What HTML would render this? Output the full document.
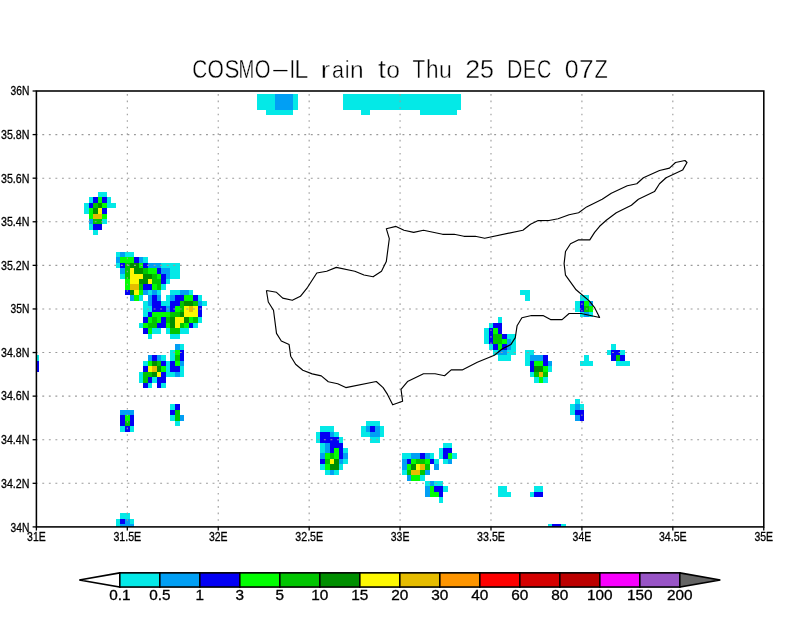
<!DOCTYPE html>
<html lang="en"><head><meta charset="utf-8"><title>COSMO-IL rain to Thu 25 DEC 07Z</title>
<style>html,body{margin:0;padding:0;background:#fff}body{width:800px;height:618px;overflow:hidden}svg{display:block}text{font-family:"Liberation Sans",Arial,Helvetica,sans-serif;fill:#000}.ax{font-size:12.8px;stroke:#000;stroke-width:.3px}.cb{font-size:14.2px;stroke:#000;stroke-width:.3px}.tt{font-size:26.6px;stroke:#fff;stroke-width:.4px}</style></head><body>
<svg width="800" height="618" viewBox="0 0 800 618">
<rect width="800" height="618" fill="#fff"/>
<g shape-rendering="crispEdges">
<rect x="98" y="192" width="9" height="5" fill="#04e9e7"/>
<rect x="89" y="197" width="4" height="6" fill="#04e9e7"/>
<rect x="93" y="197" width="5" height="6" fill="#0300f4"/>
<rect x="98" y="197" width="4" height="6" fill="#02fd02"/>
<rect x="102" y="197" width="5" height="6" fill="#0300f4"/>
<rect x="107" y="197" width="4" height="6" fill="#04e9e7"/>
<rect x="84" y="203" width="5" height="5" fill="#04e9e7"/>
<rect x="89" y="203" width="4" height="5" fill="#0300f4"/>
<rect x="93" y="203" width="5" height="5" fill="#01c501"/>
<rect x="98" y="203" width="4" height="5" fill="#008e00"/>
<rect x="102" y="203" width="5" height="5" fill="#02fd02"/>
<rect x="107" y="203" width="9" height="5" fill="#04e9e7"/>
<rect x="84" y="208" width="5" height="6" fill="#04e9e7"/>
<rect x="89" y="208" width="4" height="6" fill="#02fd02"/>
<rect x="93" y="208" width="5" height="6" fill="#008e00"/>
<rect x="98" y="208" width="4" height="6" fill="#fdf802"/>
<rect x="102" y="208" width="5" height="6" fill="#0300f4"/>
<rect x="89" y="214" width="4" height="5" fill="#02fd02"/>
<rect x="93" y="214" width="9" height="5" fill="#e5bc00"/>
<rect x="102" y="214" width="5" height="5" fill="#02fd02"/>
<rect x="89" y="219" width="4" height="5" fill="#019ff4"/>
<rect x="93" y="219" width="9" height="5" fill="#01c501"/>
<rect x="102" y="219" width="5" height="5" fill="#04e9e7"/>
<rect x="89" y="224" width="4" height="6" fill="#04e9e7"/>
<rect x="93" y="224" width="9" height="6" fill="#0300f4"/>
<rect x="93" y="230" width="5" height="5" fill="#04e9e7"/>
<rect x="116" y="252" width="4" height="5" fill="#04e9e7"/>
<rect x="120" y="252" width="5" height="5" fill="#019ff4"/>
<rect x="125" y="252" width="9" height="5" fill="#04e9e7"/>
<rect x="116" y="257" width="4" height="6" fill="#019ff4"/>
<rect x="120" y="257" width="14" height="6" fill="#02fd02"/>
<rect x="134" y="257" width="5" height="6" fill="#0300f4"/>
<rect x="139" y="257" width="4" height="6" fill="#019ff4"/>
<rect x="143" y="257" width="5" height="6" fill="#04e9e7"/>
<rect x="116" y="263" width="4" height="5" fill="#04e9e7"/>
<rect x="120" y="263" width="5" height="5" fill="#0300f4"/>
<rect x="125" y="263" width="5" height="5" fill="#01c501"/>
<rect x="130" y="263" width="9" height="5" fill="#008e00"/>
<rect x="139" y="263" width="4" height="5" fill="#02fd02"/>
<rect x="143" y="263" width="5" height="5" fill="#0300f4"/>
<rect x="148" y="263" width="13" height="5" fill="#019ff4"/>
<rect x="161" y="263" width="19" height="5" fill="#04e9e7"/>
<rect x="120" y="268" width="5" height="6" fill="#019ff4"/>
<rect x="125" y="268" width="5" height="6" fill="#01c501"/>
<rect x="130" y="268" width="4" height="6" fill="#fdf802"/>
<rect x="134" y="268" width="9" height="6" fill="#008e00"/>
<rect x="143" y="268" width="5" height="6" fill="#01c501"/>
<rect x="148" y="268" width="9" height="6" fill="#02fd02"/>
<rect x="157" y="268" width="4" height="6" fill="#0300f4"/>
<rect x="161" y="268" width="9" height="6" fill="#019ff4"/>
<rect x="170" y="268" width="10" height="6" fill="#04e9e7"/>
<rect x="120" y="274" width="5" height="5" fill="#04e9e7"/>
<rect x="125" y="274" width="5" height="5" fill="#01c501"/>
<rect x="130" y="274" width="13" height="5" fill="#fdf802"/>
<rect x="143" y="274" width="9" height="5" fill="#008e00"/>
<rect x="152" y="274" width="5" height="5" fill="#01c501"/>
<rect x="157" y="274" width="4" height="5" fill="#02fd02"/>
<rect x="161" y="274" width="5" height="5" fill="#0300f4"/>
<rect x="166" y="274" width="4" height="5" fill="#019ff4"/>
<rect x="170" y="274" width="10" height="5" fill="#04e9e7"/>
<rect x="125" y="279" width="5" height="5" fill="#02fd02"/>
<rect x="130" y="279" width="9" height="5" fill="#fdf802"/>
<rect x="139" y="279" width="9" height="5" fill="#008e00"/>
<rect x="148" y="279" width="4" height="5" fill="#fdf802"/>
<rect x="152" y="279" width="9" height="5" fill="#01c501"/>
<rect x="161" y="279" width="5" height="5" fill="#0300f4"/>
<rect x="166" y="279" width="4" height="5" fill="#04e9e7"/>
<rect x="125" y="284" width="5" height="6" fill="#02fd02"/>
<rect x="130" y="284" width="9" height="6" fill="#e5bc00"/>
<rect x="139" y="284" width="4" height="6" fill="#01c501"/>
<rect x="143" y="284" width="9" height="6" fill="#0300f4"/>
<rect x="152" y="284" width="5" height="6" fill="#02fd02"/>
<rect x="157" y="284" width="4" height="6" fill="#01c501"/>
<rect x="161" y="284" width="5" height="6" fill="#04e9e7"/>
<rect x="125" y="290" width="5" height="5" fill="#0300f4"/>
<rect x="130" y="290" width="4" height="5" fill="#008e00"/>
<rect x="134" y="290" width="5" height="5" fill="#fdf802"/>
<rect x="139" y="290" width="4" height="5" fill="#02fd02"/>
<rect x="143" y="290" width="5" height="5" fill="#019ff4"/>
<rect x="148" y="290" width="4" height="5" fill="#04e9e7"/>
<rect x="152" y="290" width="5" height="5" fill="#019ff4"/>
<rect x="157" y="290" width="4" height="5" fill="#04e9e7"/>
<rect x="170" y="290" width="10" height="5" fill="#04e9e7"/>
<rect x="180" y="290" width="9" height="5" fill="#019ff4"/>
<rect x="189" y="290" width="4" height="5" fill="#04e9e7"/>
<rect x="130" y="295" width="4" height="6" fill="#019ff4"/>
<rect x="134" y="295" width="5" height="6" fill="#02fd02"/>
<rect x="139" y="295" width="4" height="6" fill="#04e9e7"/>
<rect x="148" y="295" width="4" height="6" fill="#019ff4"/>
<rect x="152" y="295" width="5" height="6" fill="#0300f4"/>
<rect x="157" y="295" width="4" height="6" fill="#019ff4"/>
<rect x="166" y="295" width="4" height="6" fill="#04e9e7"/>
<rect x="170" y="295" width="5" height="6" fill="#019ff4"/>
<rect x="175" y="295" width="9" height="6" fill="#0300f4"/>
<rect x="184" y="295" width="9" height="6" fill="#02fd02"/>
<rect x="193" y="295" width="5" height="6" fill="#0300f4"/>
<rect x="198" y="295" width="4" height="6" fill="#04e9e7"/>
<rect x="143" y="301" width="5" height="5" fill="#04e9e7"/>
<rect x="148" y="301" width="4" height="5" fill="#019ff4"/>
<rect x="152" y="301" width="9" height="5" fill="#0300f4"/>
<rect x="161" y="301" width="9" height="5" fill="#04e9e7"/>
<rect x="170" y="301" width="10" height="5" fill="#0300f4"/>
<rect x="180" y="301" width="4" height="5" fill="#01c501"/>
<rect x="184" y="301" width="9" height="5" fill="#008e00"/>
<rect x="193" y="301" width="5" height="5" fill="#01c501"/>
<rect x="198" y="301" width="4" height="5" fill="#019ff4"/>
<rect x="202" y="301" width="5" height="5" fill="#04e9e7"/>
<rect x="143" y="306" width="9" height="6" fill="#04e9e7"/>
<rect x="152" y="306" width="14" height="6" fill="#0300f4"/>
<rect x="166" y="306" width="4" height="6" fill="#019ff4"/>
<rect x="170" y="306" width="5" height="6" fill="#0300f4"/>
<rect x="175" y="306" width="5" height="6" fill="#02fd02"/>
<rect x="180" y="306" width="4" height="6" fill="#01c501"/>
<rect x="184" y="306" width="5" height="6" fill="#fdf802"/>
<rect x="189" y="306" width="4" height="6" fill="#e5bc00"/>
<rect x="193" y="306" width="5" height="6" fill="#fdf802"/>
<rect x="198" y="306" width="4" height="6" fill="#0300f4"/>
<rect x="143" y="312" width="5" height="5" fill="#04e9e7"/>
<rect x="148" y="312" width="4" height="5" fill="#0300f4"/>
<rect x="152" y="312" width="18" height="5" fill="#02fd02"/>
<rect x="170" y="312" width="10" height="5" fill="#01c501"/>
<rect x="180" y="312" width="4" height="5" fill="#008e00"/>
<rect x="184" y="312" width="14" height="5" fill="#fdf802"/>
<rect x="198" y="312" width="4" height="5" fill="#0300f4"/>
<rect x="143" y="317" width="5" height="6" fill="#0300f4"/>
<rect x="148" y="317" width="4" height="6" fill="#02fd02"/>
<rect x="152" y="317" width="5" height="6" fill="#01c501"/>
<rect x="157" y="317" width="4" height="6" fill="#02fd02"/>
<rect x="161" y="317" width="5" height="6" fill="#0300f4"/>
<rect x="166" y="317" width="4" height="6" fill="#01c501"/>
<rect x="170" y="317" width="5" height="6" fill="#008e00"/>
<rect x="175" y="317" width="9" height="6" fill="#fdf802"/>
<rect x="184" y="317" width="5" height="6" fill="#008e00"/>
<rect x="189" y="317" width="4" height="6" fill="#02fd02"/>
<rect x="193" y="317" width="5" height="6" fill="#01c501"/>
<rect x="198" y="317" width="4" height="6" fill="#04e9e7"/>
<rect x="139" y="323" width="4" height="5" fill="#04e9e7"/>
<rect x="143" y="323" width="5" height="5" fill="#02fd02"/>
<rect x="148" y="323" width="9" height="5" fill="#01c501"/>
<rect x="157" y="323" width="9" height="5" fill="#0300f4"/>
<rect x="166" y="323" width="4" height="5" fill="#02fd02"/>
<rect x="170" y="323" width="5" height="5" fill="#008e00"/>
<rect x="175" y="323" width="5" height="5" fill="#fdf802"/>
<rect x="180" y="323" width="4" height="5" fill="#01c501"/>
<rect x="184" y="323" width="5" height="5" fill="#02fd02"/>
<rect x="189" y="323" width="4" height="5" fill="#0300f4"/>
<rect x="193" y="323" width="5" height="5" fill="#04e9e7"/>
<rect x="143" y="328" width="5" height="6" fill="#0300f4"/>
<rect x="148" y="328" width="4" height="6" fill="#02fd02"/>
<rect x="152" y="328" width="9" height="6" fill="#04e9e7"/>
<rect x="166" y="328" width="4" height="6" fill="#04e9e7"/>
<rect x="170" y="328" width="10" height="6" fill="#01c501"/>
<rect x="180" y="328" width="9" height="6" fill="#04e9e7"/>
<rect x="148" y="334" width="4" height="5" fill="#04e9e7"/>
<rect x="170" y="334" width="10" height="5" fill="#04e9e7"/>
<rect x="175" y="344" width="5" height="6" fill="#019ff4"/>
<rect x="180" y="344" width="4" height="6" fill="#04e9e7"/>
<rect x="170" y="350" width="5" height="5" fill="#04e9e7"/>
<rect x="175" y="350" width="5" height="5" fill="#02fd02"/>
<rect x="180" y="350" width="4" height="5" fill="#0300f4"/>
<rect x="148" y="355" width="4" height="6" fill="#019ff4"/>
<rect x="152" y="355" width="5" height="6" fill="#0300f4"/>
<rect x="157" y="355" width="4" height="6" fill="#019ff4"/>
<rect x="161" y="355" width="5" height="6" fill="#04e9e7"/>
<rect x="170" y="355" width="5" height="6" fill="#04e9e7"/>
<rect x="175" y="355" width="5" height="6" fill="#01c501"/>
<rect x="180" y="355" width="4" height="6" fill="#0300f4"/>
<rect x="143" y="361" width="5" height="5" fill="#04e9e7"/>
<rect x="148" y="361" width="4" height="5" fill="#02fd02"/>
<rect x="152" y="361" width="5" height="5" fill="#008e00"/>
<rect x="157" y="361" width="4" height="5" fill="#01c501"/>
<rect x="161" y="361" width="5" height="5" fill="#0300f4"/>
<rect x="166" y="361" width="4" height="5" fill="#04e9e7"/>
<rect x="170" y="361" width="5" height="5" fill="#0300f4"/>
<rect x="175" y="361" width="5" height="5" fill="#02fd02"/>
<rect x="180" y="361" width="4" height="5" fill="#019ff4"/>
<rect x="143" y="366" width="5" height="6" fill="#0300f4"/>
<rect x="148" y="366" width="4" height="6" fill="#fdf802"/>
<rect x="152" y="366" width="5" height="6" fill="#e5bc00"/>
<rect x="157" y="366" width="4" height="6" fill="#008e00"/>
<rect x="161" y="366" width="5" height="6" fill="#02fd02"/>
<rect x="166" y="366" width="4" height="6" fill="#04e9e7"/>
<rect x="170" y="366" width="10" height="6" fill="#0300f4"/>
<rect x="180" y="366" width="4" height="6" fill="#04e9e7"/>
<rect x="139" y="372" width="4" height="5" fill="#04e9e7"/>
<rect x="143" y="372" width="9" height="5" fill="#01c501"/>
<rect x="152" y="372" width="5" height="5" fill="#008e00"/>
<rect x="157" y="372" width="4" height="5" fill="#fdf802"/>
<rect x="161" y="372" width="5" height="5" fill="#0300f4"/>
<rect x="166" y="372" width="9" height="5" fill="#04e9e7"/>
<rect x="175" y="372" width="5" height="5" fill="#019ff4"/>
<rect x="180" y="372" width="4" height="5" fill="#04e9e7"/>
<rect x="139" y="377" width="4" height="6" fill="#04e9e7"/>
<rect x="143" y="377" width="5" height="6" fill="#01c501"/>
<rect x="148" y="377" width="4" height="6" fill="#0300f4"/>
<rect x="152" y="377" width="5" height="6" fill="#04e9e7"/>
<rect x="157" y="377" width="9" height="6" fill="#0300f4"/>
<rect x="143" y="383" width="5" height="5" fill="#0300f4"/>
<rect x="148" y="383" width="4" height="5" fill="#04e9e7"/>
<rect x="157" y="383" width="4" height="5" fill="#0300f4"/>
<rect x="161" y="383" width="5" height="5" fill="#04e9e7"/>
<rect x="120" y="410" width="14" height="5" fill="#019ff4"/>
<rect x="120" y="415" width="5" height="6" fill="#0300f4"/>
<rect x="125" y="415" width="5" height="6" fill="#02fd02"/>
<rect x="130" y="415" width="4" height="6" fill="#0300f4"/>
<rect x="120" y="421" width="5" height="5" fill="#0300f4"/>
<rect x="125" y="421" width="5" height="5" fill="#01c501"/>
<rect x="130" y="421" width="4" height="5" fill="#0300f4"/>
<rect x="120" y="426" width="5" height="6" fill="#04e9e7"/>
<rect x="125" y="426" width="5" height="6" fill="#0300f4"/>
<rect x="130" y="426" width="4" height="6" fill="#04e9e7"/>
<rect x="170" y="404" width="5" height="6" fill="#04e9e7"/>
<rect x="175" y="404" width="5" height="6" fill="#0300f4"/>
<rect x="170" y="410" width="5" height="5" fill="#0300f4"/>
<rect x="175" y="410" width="5" height="5" fill="#01c501"/>
<rect x="170" y="415" width="5" height="6" fill="#04e9e7"/>
<rect x="175" y="415" width="5" height="6" fill="#01c501"/>
<rect x="180" y="415" width="4" height="6" fill="#019ff4"/>
<rect x="175" y="421" width="5" height="5" fill="#04e9e7"/>
<rect x="120" y="513" width="10" height="6" fill="#04e9e7"/>
<rect x="116" y="519" width="4" height="5" fill="#04e9e7"/>
<rect x="120" y="519" width="5" height="5" fill="#0300f4"/>
<rect x="125" y="519" width="5" height="5" fill="#019ff4"/>
<rect x="130" y="519" width="4" height="5" fill="#04e9e7"/>
<rect x="116" y="524" width="4" height="3" fill="#04e9e7"/>
<rect x="120" y="524" width="14" height="3" fill="#019ff4"/>
<rect x="320" y="426" width="14" height="6" fill="#04e9e7"/>
<rect x="316" y="432" width="4" height="5" fill="#04e9e7"/>
<rect x="320" y="432" width="10" height="5" fill="#0300f4"/>
<rect x="330" y="432" width="4" height="5" fill="#019ff4"/>
<rect x="334" y="432" width="5" height="5" fill="#04e9e7"/>
<rect x="316" y="437" width="4" height="6" fill="#04e9e7"/>
<rect x="320" y="437" width="19" height="6" fill="#0300f4"/>
<rect x="339" y="437" width="4" height="6" fill="#04e9e7"/>
<rect x="320" y="443" width="5" height="5" fill="#04e9e7"/>
<rect x="325" y="443" width="5" height="5" fill="#019ff4"/>
<rect x="330" y="443" width="13" height="5" fill="#0300f4"/>
<rect x="320" y="448" width="5" height="5" fill="#04e9e7"/>
<rect x="325" y="448" width="5" height="5" fill="#019ff4"/>
<rect x="330" y="448" width="4" height="5" fill="#0300f4"/>
<rect x="334" y="448" width="5" height="5" fill="#02fd02"/>
<rect x="339" y="448" width="4" height="5" fill="#0300f4"/>
<rect x="343" y="448" width="5" height="5" fill="#04e9e7"/>
<rect x="320" y="453" width="5" height="6" fill="#019ff4"/>
<rect x="325" y="453" width="5" height="6" fill="#02fd02"/>
<rect x="330" y="453" width="4" height="6" fill="#01c501"/>
<rect x="334" y="453" width="5" height="6" fill="#02fd02"/>
<rect x="339" y="453" width="4" height="6" fill="#0300f4"/>
<rect x="343" y="453" width="5" height="6" fill="#019ff4"/>
<rect x="320" y="459" width="5" height="5" fill="#0300f4"/>
<rect x="325" y="459" width="5" height="5" fill="#01c501"/>
<rect x="330" y="459" width="4" height="5" fill="#fdf802"/>
<rect x="334" y="459" width="5" height="5" fill="#008e00"/>
<rect x="339" y="459" width="4" height="5" fill="#019ff4"/>
<rect x="343" y="459" width="5" height="5" fill="#04e9e7"/>
<rect x="320" y="464" width="5" height="6" fill="#04e9e7"/>
<rect x="325" y="464" width="5" height="6" fill="#02fd02"/>
<rect x="330" y="464" width="9" height="6" fill="#008e00"/>
<rect x="339" y="464" width="4" height="6" fill="#04e9e7"/>
<rect x="325" y="470" width="5" height="5" fill="#04e9e7"/>
<rect x="330" y="470" width="4" height="5" fill="#019ff4"/>
<rect x="334" y="470" width="5" height="5" fill="#04e9e7"/>
<rect x="366" y="421" width="14" height="5" fill="#04e9e7"/>
<rect x="361" y="426" width="5" height="6" fill="#04e9e7"/>
<rect x="366" y="426" width="4" height="6" fill="#019ff4"/>
<rect x="370" y="426" width="5" height="6" fill="#0300f4"/>
<rect x="375" y="426" width="5" height="6" fill="#019ff4"/>
<rect x="380" y="426" width="4" height="6" fill="#04e9e7"/>
<rect x="361" y="432" width="9" height="5" fill="#04e9e7"/>
<rect x="370" y="432" width="10" height="5" fill="#019ff4"/>
<rect x="380" y="432" width="4" height="5" fill="#04e9e7"/>
<rect x="370" y="437" width="10" height="6" fill="#04e9e7"/>
<rect x="443" y="443" width="9" height="5" fill="#04e9e7"/>
<rect x="439" y="448" width="4" height="5" fill="#04e9e7"/>
<rect x="443" y="448" width="9" height="5" fill="#0300f4"/>
<rect x="402" y="453" width="9" height="6" fill="#04e9e7"/>
<rect x="411" y="453" width="9" height="6" fill="#019ff4"/>
<rect x="420" y="453" width="5" height="6" fill="#0300f4"/>
<rect x="425" y="453" width="5" height="6" fill="#019ff4"/>
<rect x="430" y="453" width="4" height="6" fill="#04e9e7"/>
<rect x="439" y="453" width="4" height="6" fill="#04e9e7"/>
<rect x="443" y="453" width="5" height="6" fill="#0300f4"/>
<rect x="448" y="453" width="4" height="6" fill="#02fd02"/>
<rect x="452" y="453" width="5" height="6" fill="#04e9e7"/>
<rect x="402" y="459" width="5" height="5" fill="#019ff4"/>
<rect x="407" y="459" width="4" height="5" fill="#0300f4"/>
<rect x="411" y="459" width="5" height="5" fill="#02fd02"/>
<rect x="416" y="459" width="9" height="5" fill="#01c501"/>
<rect x="425" y="459" width="5" height="5" fill="#02fd02"/>
<rect x="430" y="459" width="4" height="5" fill="#0300f4"/>
<rect x="434" y="459" width="5" height="5" fill="#04e9e7"/>
<rect x="443" y="459" width="5" height="5" fill="#04e9e7"/>
<rect x="448" y="459" width="4" height="5" fill="#019ff4"/>
<rect x="402" y="464" width="5" height="6" fill="#019ff4"/>
<rect x="407" y="464" width="4" height="6" fill="#02fd02"/>
<rect x="411" y="464" width="5" height="6" fill="#008e00"/>
<rect x="416" y="464" width="4" height="6" fill="#fdf802"/>
<rect x="420" y="464" width="5" height="6" fill="#e5bc00"/>
<rect x="425" y="464" width="5" height="6" fill="#01c501"/>
<rect x="434" y="464" width="5" height="6" fill="#019ff4"/>
<rect x="402" y="470" width="5" height="5" fill="#04e9e7"/>
<rect x="407" y="470" width="4" height="5" fill="#01c501"/>
<rect x="411" y="470" width="9" height="5" fill="#e5bc00"/>
<rect x="420" y="470" width="5" height="5" fill="#01c501"/>
<rect x="425" y="470" width="5" height="5" fill="#019ff4"/>
<rect x="407" y="475" width="4" height="6" fill="#019ff4"/>
<rect x="411" y="475" width="9" height="6" fill="#02fd02"/>
<rect x="420" y="475" width="5" height="6" fill="#04e9e7"/>
<rect x="425" y="481" width="5" height="5" fill="#04e9e7"/>
<rect x="430" y="481" width="4" height="5" fill="#019ff4"/>
<rect x="434" y="481" width="9" height="5" fill="#04e9e7"/>
<rect x="425" y="486" width="5" height="6" fill="#019ff4"/>
<rect x="430" y="486" width="4" height="6" fill="#02fd02"/>
<rect x="434" y="486" width="9" height="6" fill="#0300f4"/>
<rect x="443" y="486" width="5" height="6" fill="#04e9e7"/>
<rect x="425" y="492" width="5" height="5" fill="#019ff4"/>
<rect x="430" y="492" width="9" height="5" fill="#02fd02"/>
<rect x="439" y="492" width="4" height="5" fill="#0300f4"/>
<rect x="439" y="497" width="4" height="6" fill="#04e9e7"/>
<rect x="498" y="486" width="9" height="6" fill="#04e9e7"/>
<rect x="498" y="492" width="13" height="5" fill="#04e9e7"/>
<rect x="534" y="486" width="9" height="6" fill="#04e9e7"/>
<rect x="530" y="492" width="4" height="5" fill="#04e9e7"/>
<rect x="534" y="492" width="9" height="5" fill="#0300f4"/>
<rect x="548" y="524" width="4" height="3" fill="#04e9e7"/>
<rect x="552" y="524" width="9" height="3" fill="#0300f4"/>
<rect x="561" y="524" width="5" height="3" fill="#04e9e7"/>
<rect x="498" y="317" width="4" height="6" fill="#04e9e7"/>
<rect x="489" y="323" width="4" height="5" fill="#04e9e7"/>
<rect x="493" y="323" width="9" height="5" fill="#0300f4"/>
<rect x="484" y="328" width="5" height="6" fill="#04e9e7"/>
<rect x="489" y="328" width="4" height="6" fill="#0300f4"/>
<rect x="493" y="328" width="5" height="6" fill="#02fd02"/>
<rect x="498" y="328" width="4" height="6" fill="#0300f4"/>
<rect x="484" y="334" width="5" height="5" fill="#04e9e7"/>
<rect x="489" y="334" width="4" height="5" fill="#0300f4"/>
<rect x="493" y="334" width="9" height="5" fill="#01c501"/>
<rect x="502" y="334" width="5" height="5" fill="#0300f4"/>
<rect x="507" y="334" width="9" height="5" fill="#04e9e7"/>
<rect x="484" y="339" width="5" height="5" fill="#04e9e7"/>
<rect x="489" y="339" width="4" height="5" fill="#0300f4"/>
<rect x="493" y="339" width="9" height="5" fill="#01c501"/>
<rect x="502" y="339" width="5" height="5" fill="#02fd02"/>
<rect x="507" y="339" width="4" height="5" fill="#019ff4"/>
<rect x="511" y="339" width="5" height="5" fill="#04e9e7"/>
<rect x="489" y="344" width="4" height="6" fill="#04e9e7"/>
<rect x="493" y="344" width="5" height="6" fill="#0300f4"/>
<rect x="498" y="344" width="4" height="6" fill="#02fd02"/>
<rect x="502" y="344" width="5" height="6" fill="#0300f4"/>
<rect x="507" y="344" width="4" height="6" fill="#019ff4"/>
<rect x="511" y="344" width="5" height="6" fill="#04e9e7"/>
<rect x="493" y="350" width="5" height="5" fill="#04e9e7"/>
<rect x="498" y="350" width="9" height="5" fill="#019ff4"/>
<rect x="507" y="350" width="9" height="5" fill="#04e9e7"/>
<rect x="498" y="355" width="13" height="6" fill="#04e9e7"/>
<rect x="525" y="350" width="9" height="5" fill="#04e9e7"/>
<rect x="525" y="355" width="5" height="6" fill="#04e9e7"/>
<rect x="530" y="355" width="13" height="6" fill="#019ff4"/>
<rect x="543" y="355" width="5" height="6" fill="#0300f4"/>
<rect x="525" y="361" width="5" height="5" fill="#04e9e7"/>
<rect x="530" y="361" width="4" height="5" fill="#0300f4"/>
<rect x="534" y="361" width="9" height="5" fill="#02fd02"/>
<rect x="543" y="361" width="5" height="5" fill="#0300f4"/>
<rect x="548" y="361" width="4" height="5" fill="#019ff4"/>
<rect x="530" y="366" width="4" height="6" fill="#0300f4"/>
<rect x="534" y="366" width="9" height="6" fill="#008e00"/>
<rect x="543" y="366" width="5" height="6" fill="#02fd02"/>
<rect x="548" y="366" width="4" height="6" fill="#04e9e7"/>
<rect x="530" y="372" width="4" height="5" fill="#04e9e7"/>
<rect x="534" y="372" width="5" height="5" fill="#01c501"/>
<rect x="539" y="372" width="4" height="5" fill="#e5bc00"/>
<rect x="543" y="372" width="5" height="5" fill="#01c501"/>
<rect x="534" y="377" width="5" height="6" fill="#04e9e7"/>
<rect x="539" y="377" width="4" height="6" fill="#02fd02"/>
<rect x="543" y="377" width="5" height="6" fill="#04e9e7"/>
<rect x="520" y="290" width="10" height="5" fill="#04e9e7"/>
<rect x="525" y="295" width="5" height="6" fill="#04e9e7"/>
<rect x="580" y="295" width="9" height="6" fill="#04e9e7"/>
<rect x="575" y="301" width="5" height="5" fill="#04e9e7"/>
<rect x="580" y="301" width="4" height="5" fill="#0300f4"/>
<rect x="584" y="301" width="5" height="5" fill="#02fd02"/>
<rect x="589" y="301" width="4" height="5" fill="#019ff4"/>
<rect x="575" y="306" width="5" height="6" fill="#04e9e7"/>
<rect x="580" y="306" width="4" height="6" fill="#0300f4"/>
<rect x="584" y="306" width="5" height="6" fill="#01c501"/>
<rect x="589" y="306" width="4" height="6" fill="#02fd02"/>
<rect x="580" y="312" width="4" height="5" fill="#04e9e7"/>
<rect x="584" y="312" width="5" height="5" fill="#019ff4"/>
<rect x="589" y="312" width="4" height="5" fill="#04e9e7"/>
<rect x="584" y="355" width="5" height="6" fill="#04e9e7"/>
<rect x="580" y="361" width="13" height="5" fill="#04e9e7"/>
<rect x="611" y="344" width="5" height="6" fill="#04e9e7"/>
<rect x="607" y="350" width="4" height="5" fill="#04e9e7"/>
<rect x="611" y="350" width="9" height="5" fill="#0300f4"/>
<rect x="620" y="350" width="5" height="5" fill="#04e9e7"/>
<rect x="611" y="355" width="5" height="6" fill="#0300f4"/>
<rect x="616" y="355" width="4" height="6" fill="#01c501"/>
<rect x="620" y="355" width="5" height="6" fill="#0300f4"/>
<rect x="616" y="361" width="14" height="5" fill="#04e9e7"/>
<rect x="575" y="399" width="5" height="5" fill="#04e9e7"/>
<rect x="570" y="404" width="5" height="6" fill="#04e9e7"/>
<rect x="575" y="404" width="5" height="6" fill="#019ff4"/>
<rect x="580" y="404" width="4" height="6" fill="#04e9e7"/>
<rect x="570" y="410" width="5" height="5" fill="#04e9e7"/>
<rect x="575" y="410" width="9" height="5" fill="#0300f4"/>
<rect x="575" y="415" width="5" height="6" fill="#019ff4"/>
<rect x="580" y="415" width="4" height="6" fill="#0300f4"/>
<rect x="37" y="355" width="2" height="6" fill="#04e9e7"/>
<rect x="37" y="361" width="2" height="11" fill="#0300f4"/>
<rect x="257" y="94" width="41" height="16" fill="#04e9e7"/>
<rect x="275" y="94" width="18" height="16" fill="#019ff4"/>
<rect x="266" y="110" width="27" height="5" fill="#04e9e7"/>
<rect x="343" y="94" width="118" height="16" fill="#04e9e7"/>
<rect x="361" y="110" width="9" height="5" fill="#04e9e7"/>
<rect x="420" y="110" width="37" height="5" fill="#04e9e7"/>
</g>
<g stroke="#9a9a9a" fill="none">
<line x1="36.4" y1="483.31" x2="763.75" y2="483.31" stroke-width="1.1" stroke-dasharray="1.9 4.649" stroke-dashoffset="-5.9"/>
<line x1="36.4" y1="439.72" x2="763.75" y2="439.72" stroke-width="1.1" stroke-dasharray="1.9 4.649" stroke-dashoffset="-5.9"/>
<line x1="36.4" y1="396.13" x2="763.75" y2="396.13" stroke-width="1.1" stroke-dasharray="1.9 4.649" stroke-dashoffset="-5.9"/>
<line x1="36.4" y1="352.54" x2="763.75" y2="352.54" stroke-width="1.1" stroke-dasharray="1.9 4.649" stroke-dashoffset="-5.9"/>
<line x1="36.4" y1="308.95" x2="763.75" y2="308.95" stroke-width="1.1" stroke-dasharray="1.9 4.649" stroke-dashoffset="-5.9"/>
<line x1="36.4" y1="265.36" x2="763.75" y2="265.36" stroke-width="1.1" stroke-dasharray="1.9 4.649" stroke-dashoffset="-5.9"/>
<line x1="36.4" y1="221.77" x2="763.75" y2="221.77" stroke-width="1.1" stroke-dasharray="1.9 4.649" stroke-dashoffset="-5.9"/>
<line x1="36.4" y1="178.18" x2="763.75" y2="178.18" stroke-width="1.1" stroke-dasharray="1.9 4.649" stroke-dashoffset="-5.9"/>
<line x1="36.4" y1="134.59" x2="763.75" y2="134.59" stroke-width="1.1" stroke-dasharray="1.9 4.649" stroke-dashoffset="-5.9"/>
<line x1="127.32" y1="526.9" x2="127.32" y2="91.0" stroke-width="1.1" stroke-dasharray="1.6 4.94" stroke-dashoffset="0.4"/>
<line x1="218.24" y1="526.9" x2="218.24" y2="91.0" stroke-width="1.1" stroke-dasharray="1.6 4.94" stroke-dashoffset="0.4"/>
<line x1="309.16" y1="526.9" x2="309.16" y2="91.0" stroke-width="1.1" stroke-dasharray="1.6 4.94" stroke-dashoffset="0.4"/>
<line x1="400.07" y1="526.9" x2="400.07" y2="91.0" stroke-width="1.1" stroke-dasharray="1.6 4.94" stroke-dashoffset="0.4"/>
<line x1="490.99" y1="526.9" x2="490.99" y2="91.0" stroke-width="1.1" stroke-dasharray="1.6 4.94" stroke-dashoffset="0.4"/>
<line x1="581.91" y1="526.9" x2="581.91" y2="91.0" stroke-width="1.1" stroke-dasharray="1.6 4.94" stroke-dashoffset="0.4"/>
<line x1="672.83" y1="526.9" x2="672.83" y2="91.0" stroke-width="1.1" stroke-dasharray="1.6 4.94" stroke-dashoffset="0.4"/>
</g>
<polyline fill="none" stroke="#000" stroke-width="1.15" stroke-linejoin="round" points="266.4,290.5 276.5,292.3 282.7,298.1 292.3,300.3 300.4,296.3 307.6,287.3 316.8,273.0 326.7,271.2 336.3,267.4 354.8,271.2 364.0,275.0 373.1,276.8 381.5,271.2 386.3,261.6 389.3,238.7 386.3,228.7 396.0,226.4 404.0,230.2 413.7,232.4 423.5,230.2 442.6,234.3 454.2,234.3 463.9,236.3 475.3,236.3 484.7,238.3 522.9,230.2 530.5,224.2 538.2,220.6 549.0,220.5 558.1,218.7 569.1,214.7 578.6,212.7 586.6,206.9 602.2,199.2 611.3,193.2 627.3,185.8 636.8,183.8 643.4,177.8 659.5,170.5 669.5,168.1 675.5,162.5 685.0,160.5 687.0,162.5 682.6,170.1 666.1,177.8 659.5,183.8 654.5,191.6 638.4,199.2 631.4,205.3 616.3,212.7 606.3,220.3 599.6,226.3 594.6,232.4 589.8,239.9 578.2,239.9 570.5,243.7 565.5,251.5 564.1,263.6 565.5,275.2 576.1,289.8 589.2,300.9 594.8,307.9 599.6,317.5 581.2,313.5 569.1,313.5 562.1,319.6 550.5,319.6 543.0,315.6 531.5,315.5 521.9,317.7 517.1,325.7 515.3,337.6 510.8,344.6 502.4,348.8 494.4,355.3 477.3,362.3 462.2,369.9 451.2,369.9 444.6,375.7 435.1,373.7 423.5,373.7 407.5,381.6 401.0,389.4 402.6,401.2 392.7,404.8 387.5,394.4 383.1,387.6 376.3,381.5 345.8,387.6 337.7,383.7 328.3,381.7 321.3,375.9 312.2,373.9 302.8,370.3 295.6,364.3 290.7,356.2 289.1,344.6 281.3,341.0 276.5,333.4 273.5,310.3 268.3,302.0 266.4,290.5"/>
<rect x="36.4" y="91.0" width="727.4" height="435.9" fill="none" stroke="#000" stroke-width="1.55"/>
<g stroke="#000" stroke-width="1.3">
<line x1="32.6" y1="526.90" x2="36.4" y2="526.90"/>
<line x1="32.6" y1="483.31" x2="36.4" y2="483.31"/>
<line x1="32.6" y1="439.72" x2="36.4" y2="439.72"/>
<line x1="32.6" y1="396.13" x2="36.4" y2="396.13"/>
<line x1="32.6" y1="352.54" x2="36.4" y2="352.54"/>
<line x1="32.6" y1="308.95" x2="36.4" y2="308.95"/>
<line x1="32.6" y1="265.36" x2="36.4" y2="265.36"/>
<line x1="32.6" y1="221.77" x2="36.4" y2="221.77"/>
<line x1="32.6" y1="178.18" x2="36.4" y2="178.18"/>
<line x1="32.6" y1="134.59" x2="36.4" y2="134.59"/>
<line x1="32.6" y1="91.00" x2="36.4" y2="91.00"/>
<line x1="36.40" y1="526.9" x2="36.40" y2="530.6"/>
<line x1="127.32" y1="526.9" x2="127.32" y2="530.6"/>
<line x1="218.24" y1="526.9" x2="218.24" y2="530.6"/>
<line x1="309.16" y1="526.9" x2="309.16" y2="530.6"/>
<line x1="400.07" y1="526.9" x2="400.07" y2="530.6"/>
<line x1="490.99" y1="526.9" x2="490.99" y2="530.6"/>
<line x1="581.91" y1="526.9" x2="581.91" y2="530.6"/>
<line x1="672.83" y1="526.9" x2="672.83" y2="530.6"/>
<line x1="763.75" y1="526.9" x2="763.75" y2="530.6"/>
</g>
<g class="ax" text-anchor="end">
<text x="29.4" y="531.8" textLength="18.8" lengthAdjust="spacingAndGlyphs">34N</text>
<text x="29.4" y="487.6" textLength="28.4" lengthAdjust="spacingAndGlyphs">34.2N</text>
<text x="29.4" y="444.0" textLength="28.4" lengthAdjust="spacingAndGlyphs">34.4N</text>
<text x="29.4" y="400.4" textLength="28.4" lengthAdjust="spacingAndGlyphs">34.6N</text>
<text x="29.4" y="356.8" textLength="28.4" lengthAdjust="spacingAndGlyphs">34.8N</text>
<text x="29.4" y="313.2" textLength="18.8" lengthAdjust="spacingAndGlyphs">35N</text>
<text x="29.4" y="269.7" textLength="28.4" lengthAdjust="spacingAndGlyphs">35.2N</text>
<text x="29.4" y="226.1" textLength="28.4" lengthAdjust="spacingAndGlyphs">35.4N</text>
<text x="29.4" y="182.5" textLength="28.4" lengthAdjust="spacingAndGlyphs">35.6N</text>
<text x="29.4" y="138.9" textLength="28.4" lengthAdjust="spacingAndGlyphs">35.8N</text>
<text x="29.4" y="95.3" textLength="18.8" lengthAdjust="spacingAndGlyphs">36N</text>
</g>
<g class="ax" text-anchor="middle">
<text x="36.4" y="541.1" textLength="18.6" lengthAdjust="spacingAndGlyphs">31E</text>
<text x="127.3" y="541.1" textLength="27.8" lengthAdjust="spacingAndGlyphs">31.5E</text>
<text x="218.2" y="541.1" textLength="18.6" lengthAdjust="spacingAndGlyphs">32E</text>
<text x="309.2" y="541.1" textLength="27.8" lengthAdjust="spacingAndGlyphs">32.5E</text>
<text x="400.1" y="541.1" textLength="18.6" lengthAdjust="spacingAndGlyphs">33E</text>
<text x="491.0" y="541.1" textLength="27.8" lengthAdjust="spacingAndGlyphs">33.5E</text>
<text x="581.9" y="541.1" textLength="18.6" lengthAdjust="spacingAndGlyphs">34E</text>
<text x="672.8" y="541.1" textLength="27.8" lengthAdjust="spacingAndGlyphs">34.5E</text>
<text x="763.8" y="541.1" textLength="18.6" lengthAdjust="spacingAndGlyphs">35E</text>
</g>
<text class="tt" y="78.1"><tspan x="192.25" textLength="15.00" lengthAdjust="spacingAndGlyphs">C</tspan><tspan x="207.55" textLength="16.41" lengthAdjust="spacingAndGlyphs">O</tspan><tspan x="224.38" textLength="14.95" lengthAdjust="spacingAndGlyphs">S</tspan><tspan x="238.50" textLength="15.75" lengthAdjust="spacingAndGlyphs">M</tspan><tspan x="254.84" textLength="15.72" lengthAdjust="spacingAndGlyphs">O</tspan><tspan x="270.72" textLength="19.30" lengthAdjust="spacingAndGlyphs" dy="-3.15" stroke="none" font-size="17">-</tspan><tspan x="289.42" textLength="5.66" lengthAdjust="spacingAndGlyphs" dy="3.15">I</tspan><tspan x="294.37" textLength="13.12" lengthAdjust="spacingAndGlyphs">L</tspan> <tspan x="320.59" textLength="9.83" lengthAdjust="spacingAndGlyphs" font-size="24.6">r</tspan><tspan x="331.99" textLength="11.96" lengthAdjust="spacingAndGlyphs" font-size="24.6">a</tspan><tspan x="344.85" textLength="4.80" lengthAdjust="spacingAndGlyphs" font-size="24.6">i</tspan><tspan x="350.07" textLength="13.62" lengthAdjust="spacingAndGlyphs" font-size="24.6">n</tspan> <tspan x="378.12" textLength="7.89" lengthAdjust="spacingAndGlyphs">t</tspan><tspan x="386.26" textLength="13.72" lengthAdjust="spacingAndGlyphs" font-size="24.6">o</tspan> <tspan x="412.44" textLength="12.64" lengthAdjust="spacingAndGlyphs">T</tspan><tspan x="425.98" textLength="12.59" lengthAdjust="spacingAndGlyphs">h</tspan><tspan x="438.90" textLength="12.83" lengthAdjust="spacingAndGlyphs" font-size="24.6">u</tspan> <tspan x="465.35" textLength="14.95" lengthAdjust="spacingAndGlyphs">2</tspan><tspan x="480.05" textLength="13.96" lengthAdjust="spacingAndGlyphs">5</tspan> <tspan x="507.05" textLength="15.42" lengthAdjust="spacingAndGlyphs">D</tspan><tspan x="522.94" textLength="13.11" lengthAdjust="spacingAndGlyphs">E</tspan><tspan x="536.89" textLength="14.31" lengthAdjust="spacingAndGlyphs">C</tspan> <tspan x="564.83" textLength="13.84" lengthAdjust="spacingAndGlyphs">0</tspan><tspan x="579.04" textLength="14.74" lengthAdjust="spacingAndGlyphs">7</tspan><tspan x="594.51" textLength="13.27" lengthAdjust="spacingAndGlyphs">Z</tspan></text>
<g stroke="#000" stroke-width="1.6" stroke-linejoin="miter">
<polygon points="119.8,572.85 79.3,579.95 119.8,587.05" fill="#fff"/>
<rect x="119.8" y="572.85" width="40" height="14.2" fill="#04e9e7"/>
<rect x="159.8" y="572.85" width="40" height="14.2" fill="#019ff4"/>
<rect x="199.8" y="572.85" width="40" height="14.2" fill="#0300f4"/>
<rect x="239.8" y="572.85" width="40" height="14.2" fill="#02fd02"/>
<rect x="279.8" y="572.85" width="40" height="14.2" fill="#01c501"/>
<rect x="319.8" y="572.85" width="40" height="14.2" fill="#008e00"/>
<rect x="359.8" y="572.85" width="40" height="14.2" fill="#fdf802"/>
<rect x="399.8" y="572.85" width="40" height="14.2" fill="#e5bc00"/>
<rect x="439.8" y="572.85" width="40" height="14.2" fill="#fd9500"/>
<rect x="479.8" y="572.85" width="40" height="14.2" fill="#fd0000"/>
<rect x="519.8" y="572.85" width="40" height="14.2" fill="#d40000"/>
<rect x="559.8" y="572.85" width="40" height="14.2" fill="#bc0000"/>
<rect x="599.8" y="572.85" width="40" height="14.2" fill="#f800fd"/>
<rect x="639.8" y="572.85" width="40" height="14.2" fill="#9854c6"/>
<polygon points="679.8,572.85 720.3,579.95 679.8,587.05" fill="#646464"/>
</g>
<g class="cb" text-anchor="middle">
<text x="119.8" y="600.05" textLength="21.3" lengthAdjust="spacingAndGlyphs">0.1</text>
<text x="159.8" y="600.05" textLength="21.3" lengthAdjust="spacingAndGlyphs">0.5</text>
<text x="199.8" y="600.05" textLength="8.5" lengthAdjust="spacingAndGlyphs">1</text>
<text x="239.8" y="600.05" textLength="8.5" lengthAdjust="spacingAndGlyphs">3</text>
<text x="279.8" y="600.05" textLength="8.5" lengthAdjust="spacingAndGlyphs">5</text>
<text x="319.8" y="600.05" textLength="17.1" lengthAdjust="spacingAndGlyphs">10</text>
<text x="359.8" y="600.05" textLength="17.1" lengthAdjust="spacingAndGlyphs">15</text>
<text x="399.8" y="600.05" textLength="17.1" lengthAdjust="spacingAndGlyphs">20</text>
<text x="439.8" y="600.05" textLength="17.1" lengthAdjust="spacingAndGlyphs">30</text>
<text x="479.8" y="600.05" textLength="17.1" lengthAdjust="spacingAndGlyphs">40</text>
<text x="519.8" y="600.05" textLength="17.1" lengthAdjust="spacingAndGlyphs">60</text>
<text x="559.8" y="600.05" textLength="17.1" lengthAdjust="spacingAndGlyphs">80</text>
<text x="599.8" y="600.05" textLength="25.6" lengthAdjust="spacingAndGlyphs">100</text>
<text x="639.8" y="600.05" textLength="25.6" lengthAdjust="spacingAndGlyphs">150</text>
<text x="679.8" y="600.05" textLength="25.6" lengthAdjust="spacingAndGlyphs">200</text>
</g>
</svg></body></html>
